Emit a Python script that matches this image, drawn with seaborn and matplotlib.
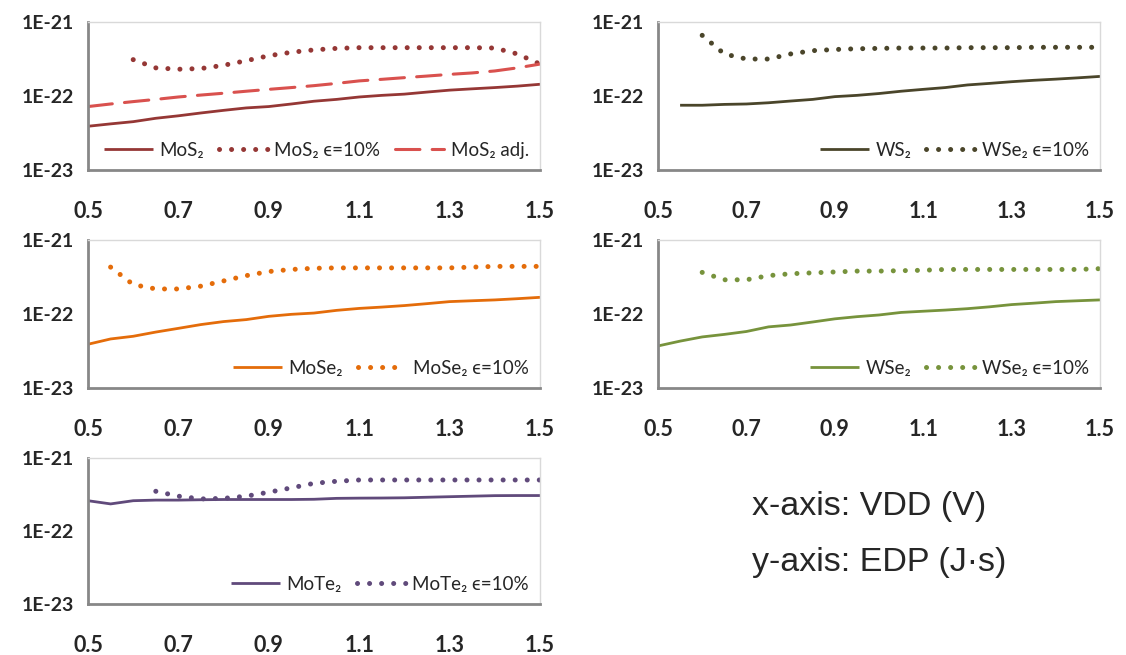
import numpy as np
import pandas as pd
import matplotlib
matplotlib.use('Agg')
import matplotlib.pyplot as plt
from matplotlib.ticker import FixedLocator, FixedFormatter, NullLocator
import seaborn as sns

sns.set_style('white')
plt.rcParams['font.family'] = ['Lato', 'DejaVu Sans']

# supply voltage VDD (V)
vdd = [0.50, 0.55, 0.60, 0.65, 0.70, 0.75, 0.80, 0.85, 0.90, 0.95, 1.00,
       1.05, 1.10, 1.15, 1.20, 1.25, 1.30, 1.35, 1.40, 1.45, 1.50]

# EDP values in units of 1E-23 J*s (None = not simulated)
mos2 = [3.9, 4.2, 4.5, 5.0, 5.4, 5.9, 6.4, 6.9, 7.2, 7.8, 8.5,
        9.0, 9.7, 10.2, 10.6, 11.3, 12.0, 12.5, 13.0, 13.6, 14.4]
mos2_eps = [None, None, 31, 24, 23, 23.5, 26, 30, 35, 39, 42,
            44, 45, 45, 45, 45, 45, 45, 44.5, 37, 27]
mos2_adj = [7.2, 7.8, 8.4, 9.0, 9.7, 10.3, 10.9, 11.6, 12.3, 13.0, 13.8,
            14.8, 16.0, 16.8, 17.7, 18.6, 19.6, 20.5, 21.8, 24.0, 27.0]

ws2 = [None, 7.5, 7.5, 7.7, 7.8, 8.1, 8.55, 9.0, 9.8, 10.2, 10.8,
       11.6, 12.3, 13.0, 14.1, 14.8, 15.6, 16.3, 16.9, 17.6, 18.4]
ws2_eps = [None, None, 66, 37, 31.6, 31.6, 37, 41, 42.5, 43.5, 44,
           44.5, 44.5, 44.5, 45, 45, 45, 45.5, 45.5, 45.5, 45.5]

mose2 = [3.9, 4.6, 5.0, 5.7, 6.4, 7.2, 7.9, 8.4, 9.3, 9.9, 10.3,
         11.2, 11.9, 12.4, 13.0, 13.8, 14.7, 15.1, 15.5, 16.1, 16.8]
mose2_eps = [None, 43, 25, 21.8, 21.8, 23.8, 28, 33, 37.5, 40, 41.5,
             42, 42, 42, 42, 42, 42, 43, 44, 44, 44]

wse2 = [3.7, 4.3, 4.9, 5.3, 5.8, 6.7, 7.1, 7.8, 8.6, 9.2, 9.7,
        10.5, 10.9, 11.3, 11.8, 12.5, 13.4, 14.0, 14.7, 15.1, 15.5]
wse2_eps = [None, None, 36.5, 29, 29, 33, 35, 36, 37, 38, 38,
            38.5, 39, 40, 40, 40, 40, 40, 40, 40, 41]

mote2 = [26, 23.5, 26, 26.5, 26.5, 26.8, 27, 27, 27, 27, 27.2,
         28, 28.2, 28.3, 28.5, 29, 29.5, 30, 30.5, 30.6, 30.6]
mote2_eps = [None, None, None, 35, 30, 27.5, 28, 30, 34, 39, 45,
             48, 50, 50, 50, 50, 50, 50, 50, 50, 50]

solid = '-'
dotted = (0, (0.01, 2.4))
dashed = (0, (8, 4))

panels = [
    # (axes rect in pixels: left, top, right, bottom), series list
    ((88, 22, 540, 170), [
        (mos2, 'MoS\u2082', '#953735', solid, 2.0),
        (mos2_eps, 'MoS\u2082 \u03f5=10%', '#953735', dotted, 3.6),
        (mos2_adj, 'MoS\u2082 adj.', '#D9514E', dashed, 2.2)]),
    ((658, 22, 1100, 170), [
        (ws2, 'WS\u2082', '#4A452A', solid, 2.0),
        (ws2_eps, 'WSe\u2082 \u03f5=10%', '#4A452A', dotted, 3.6)]),
    ((88, 240, 540, 388), [
        (mose2, 'MoSe\u2082', '#E46C0A', solid, 2.0),
        (mose2_eps, 'MoSe\u2082 \u03f5=10%', '#E46C0A', dotted, 3.6)]),
    ((658, 240, 1100, 388), [
        (wse2, 'WSe\u2082', '#77933C', solid, 2.0),
        (wse2_eps, 'WSe\u2082 \u03f5=10%', '#77933C', dotted, 3.6)]),
    ((88, 458, 540, 604), [
        (mote2, 'MoTe\u2082', '#604A7B', solid, 2.0),
        (mote2_eps, 'MoTe\u2082 \u03f5=10%', '#604A7B', dotted, 3.6)]),
]

W, H = 1126, 655
fig = plt.figure(figsize=(W / 100, H / 100), dpi=100)
fig.patch.set_facecolor('white')

for (l, t, r, b), series in panels:
    ax = fig.add_axes([l / W, 1 - b / H, (r - l) / W, (b - t) / H])
    for vals, name, col, ls, lw in series:
        df = pd.DataFrame({'VDD': vdd, 'EDP': vals}).dropna()
        df['EDP'] = df['EDP'].astype(float) * 1e-23
        sns.lineplot(data=df, x='VDD', y='EDP', ax=ax, color=col,
                     linestyle=ls, linewidth=lw, label=name,
                     dash_capstyle='round', solid_capstyle='butt')
    ax.set_yscale('log')
    ax.set_xlim(0.5, 1.5)
    ax.set_ylim(1e-23, 1e-21)
    ax.set_xlabel('')
    ax.set_ylabel('')
    ax.xaxis.set_major_locator(FixedLocator([0.5, 0.7, 0.9, 1.1, 1.3, 1.5]))
    ax.xaxis.set_major_formatter(FixedFormatter(['0.5', '0.7', '0.9', '1.1', '1.3', '1.5']))
    ax.yaxis.set_major_locator(FixedLocator([1e-23, 1e-22, 1e-21]))
    ax.yaxis.set_major_formatter(FixedFormatter(['1E-23', '1E-22', '1E-21']))
    ax.yaxis.set_minor_locator(NullLocator())
    ax.tick_params(axis='both', which='major', direction='in', length=5,
                   width=2, color='#878787')
    ax.tick_params(axis='x', pad=22, labelsize=15.5)
    ax.tick_params(axis='y', pad=10, labelsize=14)
    for lab in ax.get_xticklabels() + ax.get_yticklabels():
        lab.set_fontweight('bold')
    for side in ['left', 'bottom']:
        ax.spines[side].set_color('#878787')
        ax.spines[side].set_linewidth(2)
    for side in ['top', 'right']:
        ax.spines[side].set_color('#D9D9D9')
        ax.spines[side].set_linewidth(1)
    ax.legend(loc='lower right', ncol=len(series), frameon=False,
              fontsize=13.5, handlelength=2.6, handletextpad=0.35,
              columnspacing=0.8, borderaxespad=0.2)

fig.text(752 / W, 1 - 507 / H, 'x-axis: VDD (V)', fontsize=24.5,
         family='Liberation Sans', va='center', ha='left')
fig.text(752 / W, 1 - 562 / H, 'y-axis: EDP (J\u00b7s)', fontsize=24.5,
         family='Liberation Sans', va='center', ha='left')

plt.savefig('out.png', dpi=100)
